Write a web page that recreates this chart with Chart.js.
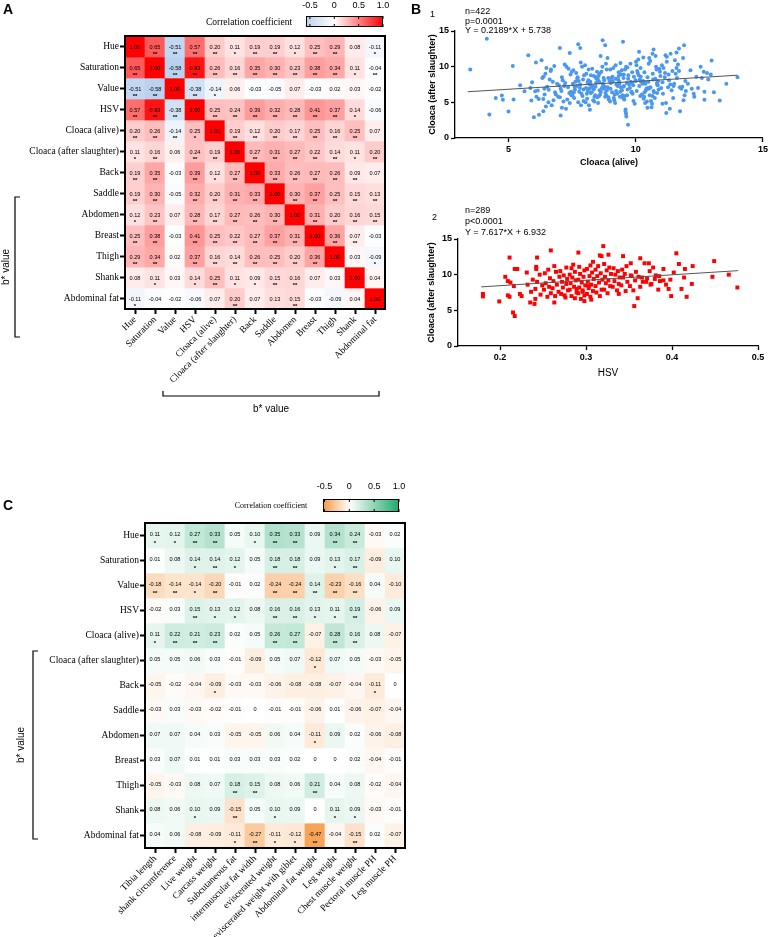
<!DOCTYPE html>
<html lang="en">
<head>
<meta charset="UTF-8">
<title>b* value correlations</title>
<script src="https://cdn.jsdelivr.net/npm/chart.js"></script>
<style>
    body { margin: 0; background: #fff; }
    #page { position: relative; width: 770px; height: 937px; overflow: hidden; font-family: "Liberation Sans", Arial, sans-serif; color: #000; }
    canvas { position: absolute; }
    .letter { position: absolute; font-weight: bold; font-size: 14px; line-height: 14px; }
    .note { position: absolute; font-size: 9px; white-space: nowrap; }
</style>
</head>
<body>
<div id="page">
    <canvas id="heatA" width="400" height="430" style="left:0;top:0"></canvas>
    <canvas id="scatter1" width="370" height="190" style="left:400px;top:0"></canvas>
    <canvas id="scatter2" width="370" height="200" style="left:400px;top:190px"></canvas>
    <canvas id="heatC" width="430" height="467" style="left:0;top:470px"></canvas>

    <div class="letter" style="left:3px;top:2px">A</div>
    <div class="letter" style="left:411px;top:2px">B</div>
    <div class="letter" style="left:3px;top:498px">C</div>

    <div class="note" style="left:430px;top:9px">1</div>
    <div class="note" style="left:465px;top:7px;line-height:9.5px">n=422<br>p=0.0001<br>Y = 0.2189*X + 5.738</div>
    <div class="note" style="left:432px;top:212px">2</div>
    <div class="note" style="left:465px;top:205px;line-height:10.8px">n=289<br>p&lt;0.0001<br>Y = 7.617*X + 6.932</div>
</div>

<script>
// ---- data ----
const colourTraits = ['Hue', 'Saturation', 'Value', 'HSV'];
const bValueSites = ['Cloaca (alive)', 'Cloaca (after slaughter)', 'Back', 'Saddle', 'Abdomen', 'Breast', 'Thigh', 'Shank', 'Abdominal fat'];
const traitsA = colourTraits.concat(bValueSites);
const carcassTraits = ['Tibia length', 'shank circumference', 'Live weight', 'Carcass weight', 'Subcutaneous fat',
    'intermuscular fat width', 'eviscerated weight', 'eviscerated weight with giblet', 'Abdominal fat weight',
    'Leg weight', 'Chest muscle weight', 'Pectoral muscle PH', 'Leg muscle PH'];
const colourbarTicks = [-0.5, 0, 0.5, 1.0];

// panel A: correlation matrix (rows = traitsA, cols = traitsA)
const corrA = [
    [1.00, 0.65, -0.51, 0.57, 0.20, 0.11, 0.19, 0.19, 0.12, 0.25, 0.29, 0.08, -0.11],
    [0.65, 1.00, -0.58, 0.93, 0.26, 0.16, 0.35, 0.30, 0.23, 0.38, 0.34, 0.11, -0.04],
    [-0.51, -0.58, 1.00, -0.38, -0.14, 0.06, -0.03, -0.05, 0.07, -0.03, 0.02, 0.03, -0.02],
    [0.57, 0.93, -0.38, 1.00, 0.25, 0.24, 0.39, 0.32, 0.28, 0.41, 0.37, 0.14, -0.06],
    [0.20, 0.26, -0.14, 0.25, 1.00, 0.19, 0.12, 0.20, 0.17, 0.25, 0.16, 0.25, 0.07],
    [0.11, 0.16, 0.06, 0.24, 0.19, 1.00, 0.27, 0.31, 0.27, 0.22, 0.14, 0.11, 0.20],
    [0.19, 0.35, -0.03, 0.39, 0.12, 0.27, 1.00, 0.33, 0.26, 0.27, 0.26, 0.09, 0.07],
    [0.19, 0.30, -0.05, 0.32, 0.20, 0.31, 0.33, 1.00, 0.30, 0.37, 0.25, 0.15, 0.13],
    [0.12, 0.23, 0.07, 0.28, 0.17, 0.27, 0.26, 0.30, 1.00, 0.31, 0.20, 0.16, 0.15],
    [0.25, 0.38, -0.03, 0.41, 0.25, 0.22, 0.27, 0.37, 0.31, 1.00, 0.36, 0.07, -0.03],
    [0.29, 0.34, 0.02, 0.37, 0.16, 0.14, 0.26, 0.25, 0.20, 0.36, 1.00, 0.03, -0.09],
    [0.08, 0.11, 0.03, 0.14, 0.25, 0.11, 0.09, 0.15, 0.16, 0.07, 0.03, 1.00, 0.04],
    [-0.11, -0.04, -0.02, -0.06, 0.07, 0.20, 0.07, 0.13, 0.15, -0.03, -0.09, 0.04, 1.00]
];
// number of significance stars
const starsA = [
    [0, 2, 2, 2, 2, 1, 2, 2, 1, 2, 2, 0, 1],
    [2, 0, 2, 2, 2, 2, 2, 2, 2, 2, 2, 1, 2],
    [2, 2, 0, 2, 1, 0, 0, 0, 0, 0, 0, 0, 0],
    [2, 2, 2, 0, 2, 2, 2, 2, 2, 2, 2, 1, 0],
    [2, 2, 2, 1, 0, 2, 2, 2, 2, 2, 2, 2, 0],
    [1, 2, 0, 2, 2, 0, 2, 2, 2, 2, 2, 1, 2],
    [2, 2, 0, 2, 1, 2, 0, 2, 2, 2, 2, 2, 0],
    [2, 2, 0, 2, 2, 2, 2, 0, 2, 2, 2, 2, 2],
    [1, 2, 0, 2, 2, 2, 2, 2, 0, 2, 2, 2, 2],
    [2, 2, 0, 2, 2, 2, 2, 2, 2, 0, 2, 2, 0],
    [2, 2, 0, 2, 2, 2, 2, 2, 2, 2, 0, 0, 1],
    [0, 1, 0, 1, 2, 1, 1, 2, 2, 0, 0, 0, 0],
    [1, 0, 0, 0, 0, 2, 0, 0, 2, 0, 0, 0, 0]
];

// panel C: rows = traitsA, cols = carcassTraits
const corrC = [
    [0.11, 0.12, 0.27, 0.33, 0.05, 0.10, 0.35, 0.33, 0.09, 0.34, 0.24, -0.03, 0.02],
    [0.01, 0.08, 0.14, 0.14, 0.12, 0.05, 0.18, 0.18, 0.09, 0.13, 0.17, -0.09, 0.10],
    [-0.18, -0.14, -0.14, -0.20, -0.01, 0.02, -0.24, -0.24, 0.14, -0.23, -0.16, 0.04, -0.10],
    [-0.02, 0.03, 0.15, 0.13, 0.12, 0.08, 0.16, 0.16, 0.13, 0.11, 0.19, -0.06, 0.09],
    [0.11, 0.22, 0.21, 0.23, 0.02, 0.05, 0.26, 0.27, -0.07, 0.28, 0.16, 0.08, -0.07],
    [0.05, 0.05, 0.06, 0.03, -0.01, -0.09, 0.05, 0.07, -0.12, 0.07, 0.05, -0.03, -0.05],
    [-0.05, -0.02, -0.04, -0.09, -0.03, -0.03, -0.06, -0.08, -0.08, -0.07, -0.04, -0.11, 0],
    [-0.03, 0.03, -0.03, -0.02, -0.01, 0, -0.01, -0.01, -0.06, 0.01, -0.06, -0.07, -0.04],
    [0.07, 0.07, 0.04, 0.03, -0.05, -0.05, 0.06, 0.04, -0.11, 0.09, 0.02, -0.06, -0.08],
    [0.03, 0.07, 0.01, 0.01, 0.03, 0.03, 0.03, 0.02, 0, 0, 0.02, -0.04, -0.01],
    [-0.05, -0.03, 0.08, 0.07, 0.18, 0.15, 0.08, 0.06, 0.21, 0.04, 0.08, -0.02, -0.04],
    [0.08, 0.06, 0.10, 0.09, -0.15, 0.05, 0.10, 0.09, 0, 0.11, 0.09, -0.03, -0.01],
    [0.04, 0.06, -0.08, -0.09, -0.11, -0.27, -0.11, -0.12, -0.47, -0.04, -0.15, 0.02, -0.07]
];
const starsC = [
    [1, 1, 2, 2, 0, 1, 2, 2, 0, 2, 2, 0, 0],
    [0, 0, 1, 2, 1, 0, 2, 2, 0, 1, 2, 0, 0],
    [2, 2, 1, 2, 0, 0, 2, 2, 2, 2, 2, 0, 0],
    [0, 0, 2, 1, 1, 0, 2, 2, 1, 1, 2, 0, 0],
    [1, 2, 2, 2, 0, 0, 2, 2, 0, 2, 2, 0, 0],
    [0, 0, 0, 0, 0, 0, 0, 0, 1, 0, 0, 0, 0],
    [0, 0, 0, 1, 0, 0, 0, 0, 0, 0, 0, 1, 0],
    [0, 0, 0, 0, 0, 0, 0, 0, 0, 0, 0, 0, 0],
    [0, 0, 0, 0, 0, 0, 0, 0, 1, 0, 0, 0, 0],
    [0, 0, 0, 0, 0, 0, 0, 0, 0, 0, 0, 0, 0],
    [0, 0, 0, 0, 2, 2, 0, 0, 2, 0, 0, 0, 0],
    [0, 0, 1, 0, 2, 0, 1, 0, 0, 1, 1, 0, 0],
    [0, 0, 0, 0, 1, 2, 1, 1, 2, 0, 2, 0, 0]
];

// panel B1: cloaca b* alive (x) vs after slaughter (y)
const cloacaPoints = [
    [3.5, 9.6], [4.15, 13.9], [4.25, 3.3], [4.5, 5.6], [4.74, 5.95], [4.78, 5.35], [5.0, 3.7], [5.17, 10.1],
    [5.2, 5.4], [5.46, 7.4], [5.63, 6.55], [5.78, 11.6], [5.9, 5.25], [6.0, 2.9], [6.05, 6.55], [6.08, 10.6],
    [6.2, 3.25], [6.3, 10.9], [6.37, 3.75], [6.47, 4.4], [6.58, 6.75], [6.67, 9.6], [6.8, 10.1], [7.02, 12.6],
    [7.05, 3.15], [7.1, 4.25], [7.41, 11.9], [7.74, 13.15], [7.82, 12.6], [8.2, 3.95], [8.7, 13.7], [8.8, 13.0],
    [9.5, 13.5], [9.6, 3.7], [9.63, 3.0], [9.62, 3.4], [9.7, 1.85], [10.13, 12.1], [10.3, 11.3], [10.46, 4.25],
    [10.7, 12.4], [10.78, 11.5], [11.05, 4.8], [11.2, 3.5], [11.22, 11.4], [11.37, 11.8], [11.6, 12.0],
    [11.7, 12.55], [11.74, 3.75], [11.9, 13.0], [12.2, 6.9], [12.28, 6.2], [12.38, 8.6], [12.6, 8.4],
    [12.67, 9.3], [12.8, 9.1], [12.98, 10.85], [13.07, 6.4], [12.7, 5.35], [13.3, 5.25], [13.56, 7.6], [14.0, 8.5],
    [5.86, 7.0], [5.93, 7.8], [6.15, 6.65], [6.19, 5.45], [6.1, 5.8], [6.37, 5.45], [6.42, 6.1],
    [6.62, 8.2], [6.91, 7.6], [6.45, 9.0], [6.77, 5.3], [6.38, 8.6], [6.86, 6.1], [6.52, 7.2], [6.95, 5.8],
    [6.66, 9.4], [6.41, 6.9], [6.74, 7.9], [6.57, 5.0], [6.33, 8.4], [6.83, 6.4], [6.49, 9.8], [6.7, 4.6], [6.98, 7.4],
    [7.31, 5.4], [7.08, 6.6], [7.44, 8.9], [7.19, 7.3], [7.36, 9.7], [7.02, 5.7], [7.47, 6.0], [7.13, 8.1],
    [7.28, 10.0], [7.41, 4.9], [7.05, 6.9], [7.23, 7.7], [7.49, 9.3], [7.16, 5.1], [7.39, 6.3], [7.1, 8.5],
    [7.34, 7.1], [7.21, 10.3], [7.46, 6.5], [7.26, 4.1],
    [7.81, 7.0], [7.58, 5.6], [7.93, 8.2], [7.66, 9.1], [7.87, 6.2], [7.53, 7.6], [7.74, 5.0], [7.97, 8.8],
    [7.61, 6.8], [7.84, 10.6], [7.69, 7.3], [7.91, 5.9], [7.55, 9.5], [7.78, 6.5], [7.63, 7.9], [7.95, 5.2],
    [7.72, 8.5], [7.51, 6.0], [7.89, 10.0], [7.6, 7.2], [7.76, 8.0], [7.85, 4.6],
    [8.27, 6.4], [8.44, 7.7], [8.09, 5.5], [8.36, 8.7], [8.18, 6.9], [8.48, 9.3], [8.03, 5.0], [8.31, 7.3],
    [8.14, 8.1], [8.41, 6.0], [8.22, 7.9], [8.06, 9.0], [8.38, 5.8], [8.12, 6.6], [8.46, 8.3], [8.25, 7.1],
    [8.01, 10.2], [8.33, 5.3], [8.2, 7.5], [8.43, 8.5], [8.08, 6.2], [8.29, 9.7], [8.16, 4.6], [8.49, 5.7],
    [8.35, 6.8], [8.11, 7.8], [8.24, 8.8],
    [8.78, 7.2], [8.56, 5.9], [8.92, 8.4], [8.63, 6.5], [8.86, 9.6], [8.52, 4.9], [8.71, 7.6], [8.97, 8.0],
    [8.6, 6.1], [8.83, 10.4], [8.67, 7.0], [8.94, 5.4], [8.54, 8.7], [8.75, 6.9], [8.89, 11.2], [8.58, 7.8],
    [8.81, 6.3], [8.65, 9.3], [8.99, 5.1], [8.73, 7.4], [8.51, 8.2], [8.87, 6.7], [8.69, 10.0], [8.93, 5.7],
    [8.62, 11.5], [8.84, 6.0], [8.57, 9.0], [8.76, 8.1],
    [9.27, 6.2], [9.05, 8.4], [9.41, 7.1], [9.16, 5.3], [9.33, 9.2], [9.02, 7.7], [9.46, 6.7], [9.21, 10.2],
    [9.38, 5.8], [9.09, 8.6], [9.29, 7.3], [9.48, 6.0], [9.12, 9.8], [9.35, 7.9], [9.19, 4.9], [9.43, 8.9],
    [9.07, 6.4], [9.24, 7.5], [9.4, 10.5], [9.14, 5.6], [9.31, 8.2], [9.01, 6.9], [9.45, 9.5], [9.23, 6.6],
    [9.36, 7.6], [9.1, 8.0],
    [9.77, 7.0], [9.53, 8.9], [9.91, 5.2], [9.65, 7.7], [9.84, 6.5], [9.58, 9.6], [9.96, 4.8], [9.7, 8.3],
    [9.51, 7.2], [9.88, 6.2], [9.62, 10.0], [9.81, 7.9], [9.55, 5.4], [9.93, 8.6], [9.68, 6.8], [9.86, 9.2],
    [9.6, 4.0], [9.74, 7.5], [9.99, 8.1], [9.57, 5.9], [9.79, 10.4], [9.66, 6.0], [9.9, 7.4], [9.52, 8.4],
    [10.27, 7.6], [10.44, 5.1], [10.08, 9.1], [10.35, 6.4], [10.16, 8.2], [10.48, 7.0], [10.03, 10.2], [10.31, 5.5],
    [10.12, 8.8], [10.4, 6.7], [10.21, 7.9], [10.06, 9.4], [10.37, 4.9], [10.14, 7.3], [10.46, 8.5], [10.24, 6.1],
    [10.01, 10.7], [10.33, 5.8], [10.19, 9.8], [10.42, 6.9], [10.1, 11.0], [10.29, 8.0], [10.38, 7.6],
    [10.77, 8.3], [10.55, 6.0], [10.93, 9.7], [10.64, 4.8], [10.86, 7.4], [10.51, 10.4], [10.72, 6.4], [10.97, 8.7],
    [10.6, 5.2], [10.83, 7.7], [10.67, 9.0], [10.9, 6.8], [10.53, 11.2], [10.75, 5.6], [10.88, 8.0], [10.58, 7.1],
    [10.8, 10.0], [10.62, 4.3], [10.95, 9.3], [10.7, 6.6], [10.57, 10.8], [10.85, 7.5], [10.66, 11.8],
    [11.31, 8.1], [11.07, 6.2], [11.44, 9.4], [11.19, 4.9], [11.36, 7.5], [11.03, 10.2], [11.47, 5.6], [11.14, 8.5],
    [11.27, 7.1], [11.09, 9.8], [11.41, 6.7], [11.22, 10.7], [11.34, 4.1], [11.05, 7.8], [11.29, 8.9], [11.17, 11.6],
    [11.49, 7.3],
    [11.83, 7.2], [11.57, 9.0], [11.92, 6.0], [11.66, 10.3], [11.51, 7.6], [11.88, 5.3], [11.62, 8.4], [11.97, 6.6],
    [11.7, 9.4], [11.54, 10.9], [11.79, 6.9], [11.95, 8.0], [11.6, 9.8], [11.86, 11.2], [11.73, 7.1],
    [12.05, 7.6], [12.15, 9.5], [12.3, 5.8], [12.45, 7.0], [12.55, 10.0], [12.7, 6.5], [12.85, 8.2], [12.95, 8.9],
    [7.57, 6.4], [7.82, 7.5], [8.05, 7.0], [8.23, 6.3], [8.42, 7.2], [8.58, 6.7], [8.74, 8.4], [8.9, 7.1],
    [9.06, 7.8], [9.22, 8.3], [9.39, 6.5], [9.54, 7.3], [9.71, 8.8], [9.87, 7.7], [10.04, 6.6], [10.2, 8.6],
    [10.36, 7.8], [10.52, 6.9], [10.68, 8.2], [10.84, 6.3], [7.7, 8.3], [7.95, 6.8], [8.15, 9.6], [8.37, 5.1],
    [8.55, 7.9], [8.8, 5.8], [9.0, 9.6], [9.17, 6.1], [9.33, 8.7], [9.5, 5.6], [9.67, 9.9], [9.83, 6.4],
    [10.0, 8.0], [10.18, 5.9], [10.34, 9.2], [10.5, 7.9], [10.66, 5.9], [10.82, 9.6], [11.0, 7.0], [11.15, 9.1]
];
const cloacaFit = { slope: 0.2189, intercept: 5.738, xs: [3.4, 14.0] };

// panel B2: HSV (x) vs cloaca after slaughter (y)
const hsvPoints = [
    [0.18, 7.3], [0.18, 6.95], [0.199, 6.25], [0.206, 9.7], [0.211, 12.4], [0.209, 9.1], [0.212, 8.9], [0.209, 7.1],
    [0.211, 6.9], [0.215, 4.7], [0.217, 4.2], [0.216, 8.4], [0.217, 10.8], [0.22, 10.8], [0.223, 7.3], [0.225, 7.0],
    [0.235, 6.1], [0.24, 5.9], [0.243, 12.4], [0.242, 11.1], [0.241, 6.6], [0.259, 13.4], [0.263, 6.1], [0.291, 13.1],
    [0.298, 6.3], [0.306, 6.5], [0.32, 14.0], [0.326, 12.8], [0.338, 7.3], [0.343, 12.6], [0.356, 5.6], [0.36, 6.7],
    [0.363, 12.3], [0.368, 11.6], [0.373, 11.6], [0.378, 11.0], [0.384, 7.9], [0.39, 10.8], [0.393, 8.6], [0.396, 8.0],
    [0.399, 7.0], [0.398, 9.3], [0.402, 10.3], [0.405, 13.0], [0.408, 11.5], [0.411, 8.0], [0.414, 9.6], [0.415, 10.8],
    [0.417, 6.9], [0.423, 8.7], [0.424, 11.2], [0.447, 9.7], [0.449, 11.9], [0.466, 10.0], [0.476, 8.2],
    [0.365, 9.6], [0.37, 9.0], [0.375, 8.6], [0.38, 9.4], [0.385, 9.8], [0.39, 9.2], [0.352, 9.9],
    [0.236, 7.6], [0.232, 8.6], [0.238, 9.3], [0.231, 10.3],
    [0.247, 7.2], [0.241, 8.0], [0.249, 8.5], [0.243, 9.0], [0.246, 10.0], [0.242, 10.8],
    [0.255, 6.9], [0.259, 7.4], [0.251, 7.9], [0.257, 8.3], [0.253, 8.8], [0.258, 9.5], [0.252, 10.2], [0.256, 10.7],
    [0.264, 7.0], [0.268, 7.6], [0.261, 8.1], [0.266, 8.6], [0.262, 9.1], [0.269, 9.7], [0.265, 10.4], [0.263, 11.2],
    [0.276, 6.8], [0.271, 7.3], [0.279, 7.8], [0.273, 8.2], [0.277, 8.7], [0.272, 9.0], [0.278, 9.4], [0.274, 9.9],
    [0.27, 10.5], [0.277, 11.0], [0.275, 7.1],
    [0.287, 6.7], [0.283, 7.0], [0.289, 7.5], [0.281, 7.9], [0.286, 8.3], [0.282, 8.8], [0.288, 9.2], [0.284, 9.6],
    [0.281, 10.0], [0.287, 10.4], [0.283, 10.9], [0.285, 11.4], [0.289, 8.0],
    [0.294, 6.6], [0.298, 7.1], [0.291, 7.4], [0.296, 7.8], [0.292, 8.2], [0.299, 8.5], [0.295, 8.9], [0.291, 9.3],
    [0.297, 9.7], [0.293, 10.1], [0.298, 10.6], [0.292, 11.1], [0.296, 7.6],
    [0.305, 6.9], [0.301, 7.3], [0.308, 7.7], [0.303, 8.1], [0.306, 8.6], [0.302, 9.0], [0.309, 9.4], [0.304, 9.8],
    [0.307, 10.3], [0.301, 10.8], [0.305, 11.3], [0.308, 11.8], [0.303, 8.4],
    [0.316, 7.0], [0.312, 7.5], [0.318, 7.9], [0.311, 8.4], [0.315, 8.9], [0.319, 9.3], [0.313, 9.8], [0.317, 10.2],
    [0.311, 10.7], [0.314, 11.2], [0.316, 12.7],
    [0.325, 7.4], [0.321, 7.9], [0.328, 8.4], [0.323, 8.8], [0.326, 9.2], [0.322, 9.7], [0.329, 10.1], [0.324, 10.6],
    [0.327, 11.0], [0.321, 11.5], [0.318, 12.6],
    [0.336, 7.8], [0.331, 8.3], [0.338, 8.7], [0.333, 9.1], [0.339, 9.6], [0.334, 10.0], [0.337, 10.5], [0.332, 10.9],
    [0.346, 7.7], [0.341, 8.5], [0.348, 9.0], [0.343, 9.6], [0.345, 10.1], [0.342, 10.7], [0.347, 11.2],
    [0.355, 7.8], [0.351, 8.4], [0.357, 9.2], [0.353, 9.8], [0.358, 10.4], [0.352, 11.6],
    [0.363, 8.3], [0.366, 9.0], [0.361, 9.7], [0.376, 8.7], [0.371, 9.5], [0.374, 10.5], [0.386, 9.1], [0.381, 9.9]
];
const hsvFit = { slope: 7.617, intercept: 6.932, xs: [0.178, 0.477] };

// ---- helpers ----
Chart.defaults.font.family = '"Liberation Sans", Arial, sans-serif';
Chart.defaults.color = '#000';

const SERIF = '"Liberation Serif", "Times New Roman", serif';
const SANS = '"Liberation Sans", Arial, sans-serif';
const WHITE = [255, 255, 255];

function mix(a, b, t) {
    return 'rgb(' + a.map((c, k) => Math.round(c + (b[k] - c) * t)).join(',') + ')';
}
function colourA(v) {
    return v >= 0 ? mix(WHITE, [255, 0, 0], Math.min(v, 1)) : mix(WHITE, [186, 210, 240], Math.min(-v / 0.58, 1));
}
function colourC(v) {
    return v >= 0 ? mix(WHITE, [30, 170, 110], Math.min(v, 1)) : mix(WHITE, [246, 158, 78], Math.min(-v / 0.5, 1));
}

function drawColourbar(ctx, cb, colour) {
    const w = cb.x1 - cb.x0;
    const g = ctx.createLinearGradient(cb.x0, 0, cb.x1, 0);
    for (let k = 0; k <= 30; k++) {
        g.addColorStop(k / 30, colour(cb.min + (cb.max - cb.min) * k / 30));
    }
    ctx.fillStyle = g;
    ctx.fillRect(cb.x0, cb.y0, w, cb.y1 - cb.y0);
    ctx.strokeStyle = '#000';
    ctx.lineWidth = 1;
    ctx.strokeRect(cb.x0 + 0.5, cb.y0 + 0.5, w - 1, cb.y1 - cb.y0 - 1);
    ctx.fillStyle = '#000';
    ctx.font = cb.tickFont;
    ctx.textAlign = 'center';
    ctx.textBaseline = 'middle';
    colourbarTicks.forEach(v => {
        const x = cb.x0 + (v - cb.min) / (cb.max - cb.min) * w;
        ctx.beginPath();
        ctx.moveTo(x, cb.y0); ctx.lineTo(x, cb.y0 + 3);
        ctx.moveTo(x, cb.y1); ctx.lineTo(x, cb.y1 - 3);
        ctx.stroke();
        ctx.fillText(v === 0 ? '0' : v.toFixed(1), x, cb.labelY);
    });
    ctx.font = cb.titleFont;
    ctx.fillText('Correlation coefficient', cb.titleX, cb.titleY);
}

function drawBracket(ctx, b) {
    ctx.strokeStyle = '#000';
    ctx.lineWidth = 1.2;
    ctx.fillStyle = '#000';
    ctx.font = '10px ' + SANS;
    ctx.textAlign = 'center';
    ctx.textBaseline = 'middle';
    ctx.beginPath();
    if (b.horizontal) {
        ctx.moveTo(b.a, b.pos - 5); ctx.lineTo(b.a, b.pos); ctx.lineTo(b.b, b.pos); ctx.lineTo(b.b, b.pos - 5);
        ctx.stroke();
        ctx.fillText('b* value', (b.a + b.b) / 2, b.textPos);
    } else {
        ctx.moveTo(b.pos + 5, b.a); ctx.lineTo(b.pos, b.a); ctx.lineTo(b.pos, b.b); ctx.lineTo(b.pos + 5, b.b);
        ctx.stroke();
        ctx.save();
        ctx.translate(b.textPos, (b.a + b.b) / 2);
        ctx.rotate(-Math.PI / 2);
        ctx.fillText('b* value', 0, 0);
        ctx.restore();
    }
}

function heatmap(id, o) {
    const rows = o.rows;
    const cellPlugin = {
        id: 'cells',
        afterDatasetsDraw(chart) {
            const ctx = chart.ctx;
            ctx.save();
            ctx.textAlign = 'center';
            ctx.textBaseline = 'middle';
            ctx.fillStyle = '#000';
            chart.data.datasets.forEach((ds, i) => {
                chart.getDatasetMeta(i).data.forEach((bar, j) => {
                    const top = Math.min(bar.y, bar.base);
                    const h = Math.abs(bar.base - bar.y);
                    const v = o.values[i][j];
                    ctx.font = o.numFont;
                    ctx.fillText(v === 0 ? '0' : v.toFixed(2), bar.x, top + h * o.numPos);
                    if (o.stars[i][j]) {
                        ctx.font = o.starFont;
                        ctx.fillText('*'.repeat(o.stars[i][j]), bar.x, top + h * o.starPos);
                    }
                });
            });
            const a = chart.chartArea;
            ctx.lineWidth = 2;
            ctx.strokeStyle = '#000';
            ctx.strokeRect(a.left, a.top, a.right - a.left, a.bottom - a.top);
            ctx.restore();
        },
        afterDraw(chart) {
            const ctx = chart.ctx;
            ctx.save();
            drawColourbar(ctx, o.colourbar, o.colour);
            o.brackets.forEach(b => drawBracket(ctx, b));
            ctx.restore();
        }
    };
    const axisGrid = { display: true, drawOnChartArea: false, offset: false, color: '#000', tickLength: 5, tickWidth: 2 };
    return new Chart(document.getElementById(id), {
        type: 'bar',
        data: {
            labels: o.cols,
            datasets: rows.map((r, i) => ({
                label: r,
                data: o.cols.map(() => 1),
                backgroundColor: o.values[i].map(o.colour),
                borderWidth: 0,
                barPercentage: 1,
                categoryPercentage: 1
            }))
        },
        options: {
            responsive: false,
            animation: false,
            events: [],
            layout: { padding: o.padding },
            plugins: { legend: { display: false }, tooltip: { enabled: false } },
            scales: {
                x: {
                    stacked: true,
                    grid: axisGrid,
                    border: { color: '#000', width: 2 },
                    ticks: { autoSkip: false, maxRotation: 45, minRotation: 45, padding: 0, color: '#000',
                             font: { family: SERIF, size: o.labelSize } },
                    afterFit: s => { s.height = o.xHeight; }
                },
                y: {
                    stacked: true,
                    reverse: true,
                    min: 0,
                    max: rows.length,
                    afterBuildTicks: s => { s.ticks = rows.map((r, i) => ({ value: i + 0.5 })); },
                    grid: axisGrid,
                    border: { color: '#000', width: 2 },
                    ticks: { autoSkip: false, padding: 1, color: '#000', font: { family: SERIF, size: o.labelSize },
                             callback: v => rows[Math.floor(v)] },
                    afterFit: s => { s.width = o.yWidth; }
                }
            }
        },
        plugins: [cellPlugin]
    });
}

function scatter(id, o) {
    const axis = { display: true, drawOnChartArea: false, color: '#000', tickLength: 4, tickWidth: 1.3 };
    const tickFont = { size: 9, weight: 'bold' };
    return new Chart(document.getElementById(id), {
        type: 'scatter',
        data: {
            datasets: [
                { data: o.points.map(p => ({ x: p[0], y: p[1] })), backgroundColor: o.colour, borderWidth: 0,
                  pointRadius: o.radius, pointStyle: o.style, order: 1 },
                { type: 'line', data: o.fit.xs.map(x => ({ x: x, y: o.fit.slope * x + o.fit.intercept })),
                  borderColor: '#555', borderWidth: 1, pointRadius: 0, order: 0 }
            ]
        },
        options: {
            responsive: false,
            animation: false,
            events: [],
            layout: { padding: o.padding },
            plugins: { legend: { display: false }, tooltip: { enabled: false } },
            scales: {
                x: {
                    type: 'linear', min: o.xMin, max: o.xMax,
                    afterBuildTicks: s => { s.ticks = o.xTicks.map(v => ({ value: v })); },
                    grid: axis, border: { color: '#000', width: 1.3 },
                    ticks: { font: tickFont, color: '#000', padding: 2, callback: o.xFormat },
                    title: { display: true, text: o.xTitle, color: '#000', font: o.xTitleFont,
                             padding: { top: 0, bottom: o.xTitlePad } },
                    afterFit: s => { s.height = o.xHeight; }
                },
                y: {
                    type: 'linear', min: 0, max: 15,
                    afterBuildTicks: s => { s.ticks = [0, 5, 10, 15].map(v => ({ value: v })); },
                    grid: axis, border: { color: '#000', width: 1.3 },
                    ticks: { font: tickFont, color: '#000', padding: 2 },
                    title: { display: true, text: 'Cloaca (after slaughter)', color: '#000',
                             font: { size: 9, weight: 'bold' }, padding: { top: o.yTitlePad, bottom: 0 } },
                    afterFit: s => { s.width = o.yWidth; }
                }
            }
        }
    });
}

// ---- panels ----
heatmap('heatA', {
    rows: traitsA, cols: traitsA, values: corrA, stars: starsA, colour: colourA,
    padding: { left: 0, top: 36, right: 15, bottom: 0 }, yWidth: 125, xHeight: 121, labelSize: 9.5,
    numFont: '5.6px ' + SANS, starFont: 'bold 6px ' + SANS, numPos: 0.55, starPos: 0.88,
    colourbar: { x0: 306, x1: 383, y0: 16, y1: 27, min: -0.58, max: 1, labelY: 6, tickFont: '9px ' + SANS,
                 titleX: 249, titleY: 22, titleFont: '9.5px ' + SERIF },
    brackets: [
        { horizontal: true, a: 163, b: 379, pos: 396, textPos: 409 },
        { horizontal: false, a: 197, b: 337, pos: 15, textPos: 6 }
    ]
});

heatmap('heatC', {
    rows: traitsA, cols: carcassTraits, values: corrC, stars: starsC, colour: colourC,
    padding: { left: 0, top: 53, right: 25, bottom: 0 }, yWidth: 145, xHeight: 89, labelSize: 9.5,
    numFont: '5.6px ' + SANS, starFont: 'bold 6px ' + SANS, numPos: 0.45, starPos: 0.82,
    colourbar: { x0: 323, x1: 399, y0: 29, y1: 42, min: -0.53, max: 1, labelY: 17, tickFont: '9px ' + SANS,
                 titleX: 271, titleY: 36, titleFont: '8px ' + SERIF },
    brackets: [
        { horizontal: false, a: 181, b: 369, pos: 33, textPos: 21 }
    ]
});

scatter('scatter1', {
    points: cloacaPoints, fit: cloacaFit, colour: '#4a97ee', radius: 2, style: 'circle',
    xMin: 2.9, xMax: 15, xTicks: [5, 10, 15], xFormat: v => String(v),
    xTitle: 'Cloaca (alive)', xTitleFont: { size: 9, weight: 'bold' }, xTitlePad: 21.6,
    padding: { left: 0, top: 31, right: 5, bottom: 0 }, yWidth: 55, xHeight: 52, yTitlePad: 27.6
});

scatter('scatter2', {
    points: hsvPoints, fit: hsvFit, colour: '#ff0000', radius: 2.8, style: 'rect',
    xMin: 0.151, xMax: 0.5, xTicks: [0.2, 0.3, 0.4, 0.5], xFormat: v => v.toFixed(1),
    xTitle: 'HSV', xTitleFont: { size: 10, weight: 'normal' }, xTitlePad: 11,
    padding: { left: 0, top: 49, right: 12, bottom: 0 }, yWidth: 58, xHeight: 44, yTitlePad: 26.6
});
</script>
</body>
</html>
